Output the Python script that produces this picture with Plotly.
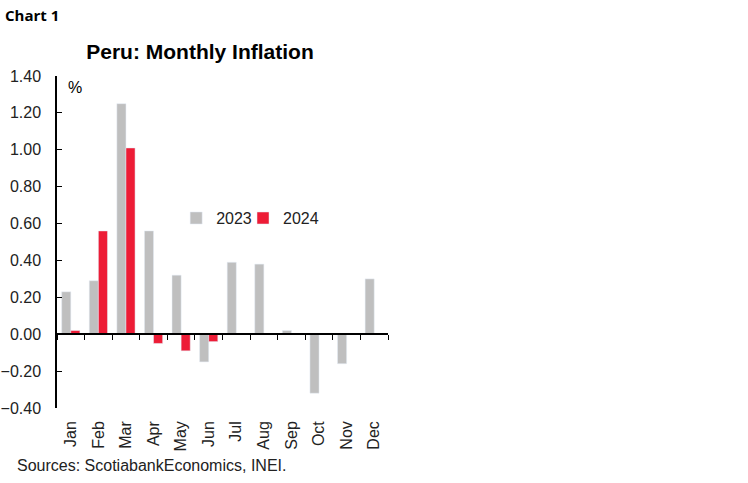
import plotly.graph_objects as go

months = ["Jan", "Feb", "Mar", "Apr", "May", "Jun", "Jul", "Aug", "Sep", "Oct", "Nov", "Dec"]
inf_2023 = [0.23, 0.29, 1.25, 0.56, 0.32, -0.15, 0.39, 0.38, 0.02, -0.32, -0.16, 0.30]
inf_2024 = [0.02, 0.56, 1.01, -0.05, -0.09, -0.04, None, None, None, None, None, None]
y_ticks = [-0.40, -0.20, 0.00, 0.20, 0.40, 0.60, 0.80, 1.00, 1.20, 1.40]

GRAY = "#BFBFBF"
RED = "#ED1C36"
FONT = "Liberation Sans, Arial, sans-serif"

fig = go.Figure()
fig.add_trace(go.Bar(x=months, y=inf_2023, name="2023", marker_color=GRAY, legend="legend"))
fig.add_trace(go.Bar(x=months, y=inf_2024, name="2024", marker_color=RED, legend="legend2"))
# invisible trace to carry the zero-line axis with boundary ticks
fig.add_trace(go.Scatter(x=months, y=[None]*12, xaxis="x2", mode="lines",
                         showlegend=False, hoverinfo="skip"))

ymin, ymax = -0.40, 1.40
zero_pos = (0 - ymin) / (ymax - ymin)
xrange = [-0.5, len(months) - 0.5]

W, H = 748, 483
L, T = 57, 76
PW, PH = 331, 332

legend_style = dict(orientation="h", y=0.572, xanchor="left", yanchor="middle",
                    bgcolor="rgba(0,0,0,0)", font=dict(size=16), itemwidth=30)

fig.update_layout(
    width=W, height=H,
    margin=dict(l=L, r=W - L - PW, t=T, b=H - T - PH, autoexpand=False),
    paper_bgcolor="white", plot_bgcolor="white",
    font=dict(family=FONT, size=16, color="#222222"),
    barmode="group", bargap=0.34, bargroupgap=0,
    title=dict(text="<b>Peru: Monthly Inflation</b>", x=200/W, xanchor="center",
               y=1 - 52/H, yanchor="middle",
               font=dict(family=FONT, size=21, color="#000000")),
    xaxis=dict(range=xrange, showline=False, ticks="", tickangle=-90, showgrid=False,
               automargin=False, tickfont=dict(size=16), zeroline=False, ticklabelstandoff=9),
    xaxis2=dict(range=xrange, overlaying="x", anchor="free", position=zero_pos, showline=True,
                linecolor="#000000", linewidth=1.5, ticks="outside", tickson="boundaries",
                ticklen=5, tickcolor="#000000", showticklabels=False, showgrid=False,
                automargin=False, categoryorder="array", categoryarray=months),
    yaxis=dict(range=[ymin, ymax], tickvals=y_ticks, tickformat=".2f", automargin=False,
               showline=True, linecolor="#000000", linewidth=1.5, ticks="inside",
               ticklen=5, tickcolor="#000000", showgrid=False, zeroline=False,
               ticklabelstandoff=11, tickfont=dict(size=16)),
    legend=dict(x=0.36, **legend_style),
    legend2=dict(x=0.562, **legend_style),
    showlegend=True,
    annotations=[
        dict(text="%", x=0.028, y=0.964, xref="paper", yref="paper", xanchor="left",
             yanchor="middle", showarrow=False, font=dict(size=16, color="#000000")),
        dict(text="<b>Chart 1</b>", x=(3-L)/PW, y=(T+PH-15)/PH, xref="paper", yref="paper",
             xanchor="left", yanchor="middle", showarrow=False,
             font=dict(family="Open Sans, sans-serif", size=15, color="#000000")),
        dict(text="Sources: ScotiabankEconomics, INEI.", x=(15-L)/PW, y=(T+PH-465)/PH,
             xref="paper", yref="paper", xanchor="left", yanchor="middle", showarrow=False,
             font=dict(size=16, color="#222222")),
    ],
)

fig.write_html("out.html", config={"displayModeBar": False},
               post_script="document.body.style.margin='0';")
